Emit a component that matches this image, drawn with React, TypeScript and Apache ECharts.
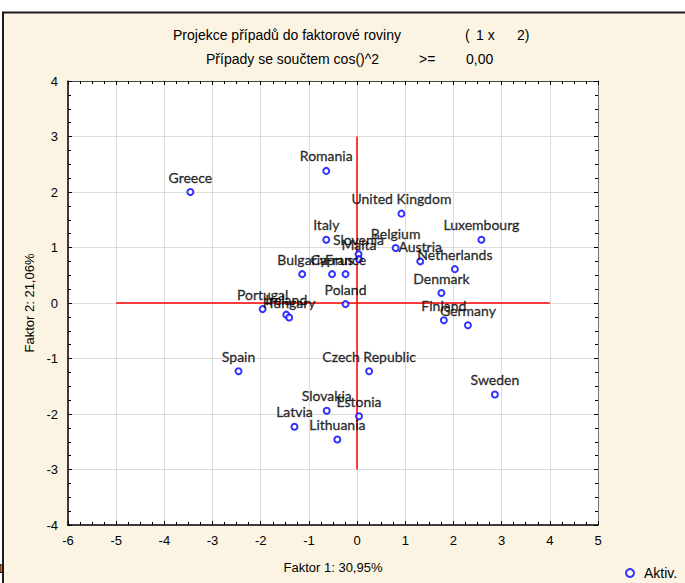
import React, { useEffect, useRef } from "react";
import * as echarts from "echarts";

// Case projections onto the factor plane (factor 1 x factor 2)
const countries = [
  "Greece", "Romania", "United Kingdom", "Luxembourg", "Italy", "Belgium",
  "Slovenia", "Malta", "Austria", "Netherlands", "Bulgaria", "Cyprus",
  "France", "Denmark", "Poland", "Portugal", "Ireland", "Hungary",
  "Finland", "Germany", "Spain", "Czech Republic", "Sweden", "Slovakia",
  "Estonia", "Latvia", "Lithuania",
];
const factor1 = [
  -3.46, -0.64, 0.92, 2.58, -0.64, 0.8,
  0.03, 0.04, 1.31, 2.03, -1.14, -0.52,
  -0.24, 1.75, -0.24, -1.96, -1.47, -1.41,
  1.8, 2.3, -2.46, 0.25, 2.86, -0.63,
  0.04, -1.3, -0.41,
];
const factor2 = [
  2.0, 2.38, 1.61, 1.14, 1.14, 0.99,
  0.88, 0.79, 0.75, 0.61, 0.52, 0.52,
  0.52, 0.18, -0.02, -0.11, -0.21, -0.26,
  -0.31, -0.4, -1.23, -1.23, -1.65, -1.94,
  -2.04, -2.23, -2.46,
];

// Axis ranges and the red origin cross (in factor units)
const xRange = [-6, 5];
const yRange = [-4, 4];
const crossX = [-5, 4];
const crossY = [3, -3];

const sans = "Liberation Sans, Arial, sans-serif";
const labelFont = "Lato, Open Sans, sans-serif";
const panelColor = "#fcf4e2";

export default function App() {
  const ref = useRef<HTMLDivElement>(null);

  useEffect(() => {
    if (!ref.current) return;
    const chart = echarts.init(ref.current, null, { renderer: "svg" });

    const points = countries.map((name, i) => ({
      name,
      value: [factor1[i], factor2[i]],
    }));

    const tickCommon = {
      axisTick: { show: true, inside: true, length: 4, lineStyle: { color: "#000" } },
      minorTick: { show: true, splitNumber: 4, length: 3, lineStyle: { color: "#000" } },
    };

    const titleText = (text: string, x: number, y: number) => ({
      type: "text",
      x,
      y,
      style: { text, font: `14px ${sans}`, fill: "#000", verticalAlign: "middle" },
    });

    chart.setOption({
      animation: false,
      backgroundColor: "#ffffff",
      graphic: [
        // cream panel framed on the top and left
        { type: "rect", z: 0, silent: true, shape: { x: 3, y: 12, width: 682, height: 571 }, style: { fill: panelColor } },
        { type: "line", z: 10, shape: { x1: 2, y1: 12.5, x2: 685, y2: 12.5 }, style: { stroke: "#1a1a1a", lineWidth: 2 } },
        { type: "line", z: 10, shape: { x1: 3, y1: 12, x2: 3, y2: 583 }, style: { stroke: "#1a1a1a", lineWidth: 2 } },
        titleText("Projekce případů do faktorové roviny", 173, 35),
        titleText("(", 465, 35),
        titleText("1 x", 476, 35),
        titleText("2)", 517, 35),
        titleText("Případy se součtem cos()^2", 206, 59),
        titleText(">=", 419, 59),
        titleText("0,00", 466, 59),
        { type: "text", z: 11, x: -3, y: 568, style: { text: "1", font: `13px ${sans}`, fill: "#000", verticalAlign: "middle" } },
        // white plotting area on top of the panel
        { type: "rect", z: 0, silent: true, shape: { x: 68, y: 81, width: 530, height: 444 }, style: { fill: "#ffffff" } },
      ],
      grid: {
        left: 68,
        top: 81,
        right: 87,
        bottom: 58,
        show: false,
      },
      legend: {
        left: 620,
        top: 561,
        itemWidth: 8,
        itemHeight: 8,
        itemStyle: { borderWidth: 2.5 },
        data: [{ name: "Aktiv.", icon: "emptyCircle" }],
        textStyle: { fontFamily: sans, fontSize: 14, color: "#000", padding: [0, 0, 0, 5] },
      },
      xAxis: [
        {
          type: "value",
          position: "bottom",
          min: xRange[0],
          max: xRange[1],
          interval: 1,
          axisLine: { show: true, onZero: false, lineStyle: { color: "#000", width: 1.5 } },
          ...tickCommon,
          splitLine: { show: true, lineStyle: { color: "#dcdcdc", width: 1 } },
          axisLabel: { margin: 9, fontFamily: sans, fontSize: 13, color: "#000" },
          name: "Faktor 1: 30,95%",
          nameLocation: "middle",
          nameGap: 36,
          nameTextStyle: { fontFamily: sans, fontSize: 13, color: "#000" },
        },
        {
          type: "value",
          position: "top",
          min: xRange[0],
          max: xRange[1],
          interval: 1,
          axisLine: { show: true, onZero: false, lineStyle: { color: "#444", width: 1 } },
          ...tickCommon,
          splitLine: { show: false },
          axisLabel: { show: false },
        },
      ],
      yAxis: [
        {
          type: "value",
          position: "left",
          min: yRange[0],
          max: yRange[1],
          interval: 1,
          axisLine: { show: true, onZero: false, lineStyle: { color: "#000", width: 1.5 } },
          ...tickCommon,
          splitLine: { show: true, lineStyle: { color: "#dcdcdc", width: 1 } },
          axisLabel: { margin: 10, fontFamily: sans, fontSize: 13, color: "#000" },
          name: "Faktor 2: 21,06%",
          nameLocation: "middle",
          nameGap: 31,
          nameTextStyle: { fontFamily: sans, fontSize: 13, color: "#000" },
        },
        {
          type: "value",
          position: "right",
          min: yRange[0],
          max: yRange[1],
          interval: 1,
          axisLine: { show: true, onZero: false, lineStyle: { color: "#777", width: 1 } },
          ...tickCommon,
          splitLine: { show: false },
          axisLabel: { show: false },
        },
      ],
      series: [
        {
          name: "Aktiv.",
          type: "scatter",
          xAxisIndex: 0,
          yAxisIndex: 0,
          symbol: "emptyCircle",
          symbolSize: 6,
          z: 5,
          itemStyle: { color: "#0000ff", borderWidth: 3 },
          label: {
            show: true,
            position: "top",
            distance: 4,
            formatter: "{b}",
            fontFamily: labelFont,
            fontSize: 14,
            color: "#000",
            textBorderColor: "#000",
            textBorderWidth: 0.35,
          },
          markLine: {
            silent: true,
            symbol: ["none", "none"],
            label: { show: false },
            lineStyle: { color: "#ff0000", width: 1.5, type: "solid" },
            data: [
              [{ coord: [crossX[0], 0] }, { coord: [crossX[1], 0] }],
              [{ coord: [0, crossY[0]] }, { coord: [0, crossY[1]] }],
            ],
          },
          data: points,
        },
      ],
    });

    return () => chart.dispose();
  }, []);

  return (
    <div
      ref={ref}
      style={{ position: "absolute", left: 0, top: 0, width: 685, height: 583 }}
    />
  );
}
